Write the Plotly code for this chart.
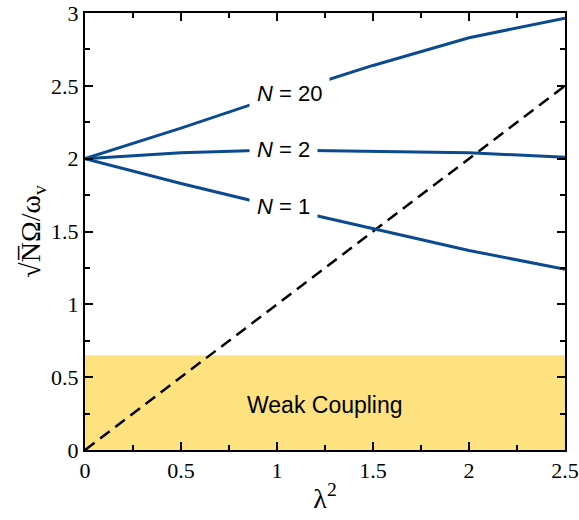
import plotly.graph_objects as go

lam2 = [0, 0.5, 1.0, 1.5, 2.0, 2.5]
n20 = [2.0, 2.21, 2.43, 2.64, 2.83, 2.965]
n2 = [2.0, 2.04, 2.06, 2.05, 2.04, 2.01]
n1 = [2.0, 1.83, 1.67, 1.52, 1.37, 1.24]
diag_x = [0, 2.5]
diag_y = [0, 2.5]
weak_top = 0.65
labels = ["<i>N</i> = 20", "<i>N</i> = 2", "<i>N</i> = 1"]
label_x = [0.855, 0.855, 0.855]
label_y = [2.45, 2.06, 1.67]

serif = "Liberation Serif"
sans = "Liberation Sans"
blue = "#0b4a8e"
fig = go.Figure()
fig.add_shape(type="rect", x0=0, x1=2.5, y0=0, y1=weak_top, fillcolor="#fde27f",
              line_width=0, layer="below")
fig.add_trace(go.Scatter(x=diag_x, y=diag_y, mode="lines",
                         line=dict(color="black", width=2.5, dash="12px,7px")))
for ys in (n20, n2, n1):
    fig.add_trace(go.Scatter(x=lam2, y=ys, mode="lines", line=dict(color=blue, width=3)))
for t, x, y in zip(labels, label_x, label_y):
    fig.add_annotation(x=x, y=y, text=t, showarrow=False, bgcolor="white",
                       xanchor="left",
                       font=dict(family=sans, size=22, color="black"),
                       borderpad=7)
fig.add_annotation(x=1.25, y=0.31, text="Weak Coupling", showarrow=False,
                   font=dict(family=sans, size=23, color="black"))

axcommon = dict(showgrid=False, zeroline=False, showline=True, linecolor="black", linewidth=2,
                mirror="ticks", ticks="inside", ticklen=8, tickwidth=2, tickcolor="black",
                automargin=False,
                tickfont=dict(family=serif, size=22, color="black"))
fig.update_xaxes(range=[0, 2.5], dtick=0.5,
                 minor=dict(dtick=0.25, ticks="inside", ticklen=5, tickwidth=2, tickcolor="black"),
                 title=dict(text="λ<sup>2</sup>", font=dict(family=serif, size=28, color="black"),
                            standoff=6), **axcommon)
fig.update_yaxes(range=[0, 3], dtick=0.5,
                 minor=dict(dtick=0.25, ticks="inside", ticklen=5, tickwidth=2, tickcolor="black"),
                 title=dict(text="√N̅Ω/ω<sub>v</sub>", font=dict(family=serif, size=28, color="black"),
                            standoff=2), **axcommon)
fig.update_layout(width=579, height=520, margin=dict(l=85, r=14, t=13, b=70),
                  font=dict(family=serif, color="black"),
                  plot_bgcolor="white", paper_bgcolor="white", showlegend=False)
fig.write_html("out.html")
